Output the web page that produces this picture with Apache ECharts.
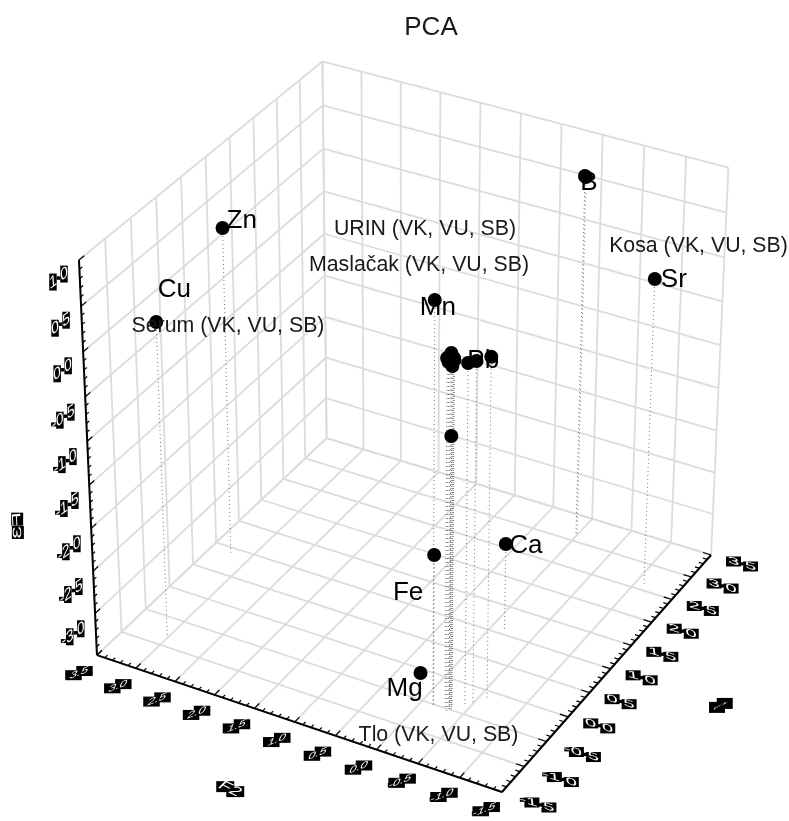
<!DOCTYPE html><html><head><meta charset="utf-8"><style>html,body{margin:0;background:#fff}#c{width:789px;height:821px}</style>
<script src="https://cdn.jsdelivr.net/npm/echarts@6/dist/echarts.min.js"></script></head><body><div id="c"></div><script>
const elements=['Cu','Zn','B','','Sr','Mn','Fe','Mg','Ca','','','','','','','','','','','','','Pb'];
const f1=[-0.853,0.905,3.117,3.123,2.602,-0.516,-0.529,-0.423,1.081,-0.509,-0.480,-0.501,-0.485,-0.501,-0.541,-0.467,-0.443,-0.448,-0.490,-0.349,-0.307,-0.123];
const f2=[3.000,3.249,0.011,0.001,-1.106,-0.139,-0.152,0.066,-0.156,-0.336,-0.314,-0.313,-0.268,-0.350,-0.316,-0.337,-0.306,-0.334,-0.332,-0.438,-0.512,-0.584];
const f3=[0.151,0.312,0.706,0.695,0.073,1.057,-1.738,-3.238,-2.472,-0.362,0.520,0.477,0.457,0.465,0.454,0.467,0.403,0.435,0.391,0.382,0.404,0.380];
const f1Ticks=['-1.5','-1.0','-0.5','0.0','0.5','1.0','1.5','2.0','2.5','3.0','3.5'];
const f2Ticks=['3.5','3.0','2.5','2.0','1.5','1.0','0.5','0.0','-0.5','-1.0','-1.5'];
const f3Ticks=['1.0','0.5','0.0','-0.5','-1.0','-1.5','-2.0','-2.5','-3.0','-3.5'];
const notes=['URIN (VK, VU, SB)','Maslačak (VK, VU, SB)','Kosa (VK, VU, SB)','Serum (VK, VU, SB)','Tlo (VK, VU, SB)'];
const FONT='"Liberation Sans",Arial,sans-serif';
// view of the box
const O=[502,792],VU=[3257,-2332],VV=[-8394,-2215],VW=[404,7390],KU=.0821,KV=.0477,KW=-.05805;
function proj(a,b,c){const s=KU*(a+1.5)/5,t=KV*(b+1.5)/5,r=KW*(c+3.5)/4.5,h=1+s+t+r;
 return [(O[0]+s*VU[0]+t*VV[0]+r*VW[0])/h,(O[1]+s*VU[1]+t*VV[1]+r*VW[1])/h];}
const seg=(p,q)=>[...proj(...p),...proj(...q)];
const A0=-1.5,A1=3.5,Z0=-3.5,Z1=1;
// grid
const gridRows=[];
f1Ticks.map(Number).forEach(x=>{gridRows.push(seg([x,A0,Z0],[x,A1,Z0]),seg([x,A1,Z0],[x,A1,Z1]));});
f2Ticks.map(Number).forEach(y=>{gridRows.push(seg([A0,y,Z0],[A1,y,Z0]),seg([A1,y,Z0],[A1,y,Z1]));});
f3Ticks.map(Number).forEach(z=>{gridRows.push(seg([A0,A1,z],[A1,A1,z]),seg([A1,A1,z],[A1,A0,z]));});
// axes + ticks
const axisRows=[seg([A0,A1,Z0],[A0,A1,Z1]),seg([A0,A1,Z0],[A0,A0,Z0]),seg([A0,A0,Z0],[A1,A0,Z0])];
const tickRows=[];
const MAJ=.1,MIN=.055,ZMAJ=.1,ZMIN=.055;
for(let i=0;i<10;i++)for(let j=0;j<5;j++){const L=j?MIN:MAJ,x=A0+i*.5+j*.1;
 tickRows.push(seg([x,A0,Z0],[x,A0+L,Z0]),seg([A0,x,Z0],[A0+L,x,Z0]));}
tickRows.push(seg([A1,A0,Z0],[A1,A0+MAJ,Z0]),seg([A0,A1,Z0],[A0+MAJ,A1,Z0]));
for(let i=0;i<9;i++)for(let j=0;j<5;j++){const L=j?ZMIN:ZMAJ,z=Z0+i*.5+j*.1;tickRows.push(seg([A0,A1,z],[A0+L,A1,z]));}
tickRows.push(seg([A0,A1,Z1],[A0+ZMAJ,A1,Z1]));
const dropRows=f1.map((x,i)=>seg([x,f2[i],f3[i]],[x,f2[i],Z0]));
const points=f1.map((x,i)=>proj(x,f2[i],f3[i]));
// label text treatments
const STYLE={
 z:{m:[1.1,-.8,0,1.42],box:[7.5,17]},
 y:{m:[1.1,-.42,-.8,1.0],box:[16.5,10]},
 x:{m:[1.7,.5,.5,.95],box:[15,10]}
};
const FS=12,ADV={'.':.278,'-':.333,F:.611};
function place(str,cx,cy,st){
 const [a,b,c,d]=st.m,th=Math.atan2(-b,a),sx=Math.hypot(a,b),ct=Math.cos(th),sn=Math.sin(th);
 const skx=(c*ct-d*sn)/sx,sy=c*sn+d*ct;
 const adv=[...str].map(ch=>(ADV[ch]||.556)*FS),tot=adv.reduce((p,q)=>p+q,0);
 let pos=-tot/2;const kids=[];
 [...str].forEach((ch,i)=>{const tx=pos+adv[i]/2;pos+=adv[i];
  const w=ch==='.'?3.5:ch==='-'?6:st.box[0],h=ch==='.'?3.5:ch==='-'?4:st.box[1];
  kids.push({type:'rect',shape:{x:cx+a*tx-w/2,y:cy+b*tx-h/2,width:w,height:h},style:{fill:'#000'}});});
 kids.push({type:'text',x:cx,y:cy,rotation:th,scaleX:sx,scaleY:sy,skewX:Math.atan(skx),
  style:{text:str,x:0,y:0,fill:'#fff',font:FS+'px '+FONT,align:'center',verticalAlign:'middle'}});
 return kids;
}
const tickLabels=[];
f1Ticks.forEach(t=>tickLabels.push({s:t,a:[+t,A0,Z0],o:t[0]==='-'?[35,12]:[31,9],st:STYLE.x}));
f2Ticks.forEach(t=>tickLabels.push({s:t,a:[A0,+t,Z0],o:[-18,18],st:STYLE.y}));
f3Ticks.slice(0,-1).forEach(t=>tickLabels.push({s:t,a:[A0,A1,+t],o:t[0]==='-'?[-22,21]:[-20.5,18],st:STYLE.z}));
const axisNames=[{s:'F1',p:[720.7,705.5],st:{m:[1.1,-.57,-1,.7],box:[16,11]}},{s:'F2',p:[230,789],st:{m:[1.43,.71,-1,.8],box:[18,11]}},{s:'F3',p:[17.5,525.5],st:{m:[.1,1.9,1,0],box:[12,13]}}];
// label placement for the elements
const LABEL_POS={Cu:[18.2,-32],Zn:[19.2,-7],B:[4,7],Sr:[19,1],Mn:[3,8],Fe:[-26,38],Mg:[-16,16],Ca:[20,2],Pb:[-8,4]};
const NOTE_POS=[[425,229],[419,265],[698.5,246],[228,326],[438.5,735]];
const segSeries=(rows,style,z)=>({type:'custom',coordinateSystem:'cartesian2d',clip:false,silent:true,z,data:rows,
 renderItem:(p,api)=>{const s=api.coord([api.value(0),api.value(1)]),e=api.coord([api.value(2),api.value(3)]);
  return {type:'line',shape:{x1:s[0],y1:s[1],x2:e[0],y2:e[1]},style};}});
const option={animation:false,backgroundColor:'#fff',
 title:{text:'PCA',left:431,top:15,textAlign:'center',padding:0,textStyle:{fontFamily:FONT,fontWeight:'normal',fontSize:26,color:'#1a1a1a'}},
 grid:{left:0,right:0,top:0,bottom:0},
 xAxis:{type:'value',min:0,max:789,show:false},
 yAxis:{type:'value',min:0,max:821,inverse:true,show:false},
 graphic:notes.map((t,i)=>({type:'text',x:NOTE_POS[i][0],y:NOTE_POS[i][1],z:20,silent:true,
   style:{text:t,fill:'#1a1a1a',font:'21.3px '+FONT,align:'center',verticalAlign:'middle'}})),
 series:[
  segSeries(gridRows,{stroke:'#dcdcdc',lineWidth:1.8},1),
  segSeries(dropRows,{stroke:'#777',lineWidth:1,lineDash:[1,3]},2),
  segSeries(axisRows,{stroke:'#000',lineWidth:2},3),
  segSeries(tickRows,{stroke:'#000',lineWidth:1.2},3),
  {type:'scatter',z:5,symbol:'circle',symbolSize:14,itemStyle:{color:'#000',opacity:1},silent:true,
   data:points.map((p,i)=>({value:p,name:elements[i]})),
   label:{show:true,position:'inside',formatter:d=>d.name,color:'#000',fontFamily:FONT,fontSize:26,
     align:'center',verticalAlign:'middle'},
   labelLayout:p=>{const n=elements[p.dataIndex],o=LABEL_POS[n]||[0,0];return {dx:o[0],dy:o[1]};}},
  {type:'custom',coordinateSystem:'cartesian2d',clip:false,silent:true,z:6,
   data:tickLabels.map(l=>proj(...l.a)),
   renderItem:(p,api)=>{const l=tickLabels[p.dataIndex],c=api.coord([api.value(0),api.value(1)]);
    return {type:'group',children:place(l.s,c[0]+l.o[0],c[1]+l.o[1],l.st)};}},
  {type:'custom',coordinateSystem:'cartesian2d',clip:false,silent:true,z:6,
   data:axisNames.map(l=>l.p),
   renderItem:(p,api)=>{const l=axisNames[p.dataIndex],c=api.coord([api.value(0),api.value(1)]);
    return {type:'group',children:place(l.s,c[0],c[1],l.st)};}}
 ]};
echarts.init(document.getElementById('c'),null,{renderer:'canvas'}).setOption(option);
</script></body></html>
